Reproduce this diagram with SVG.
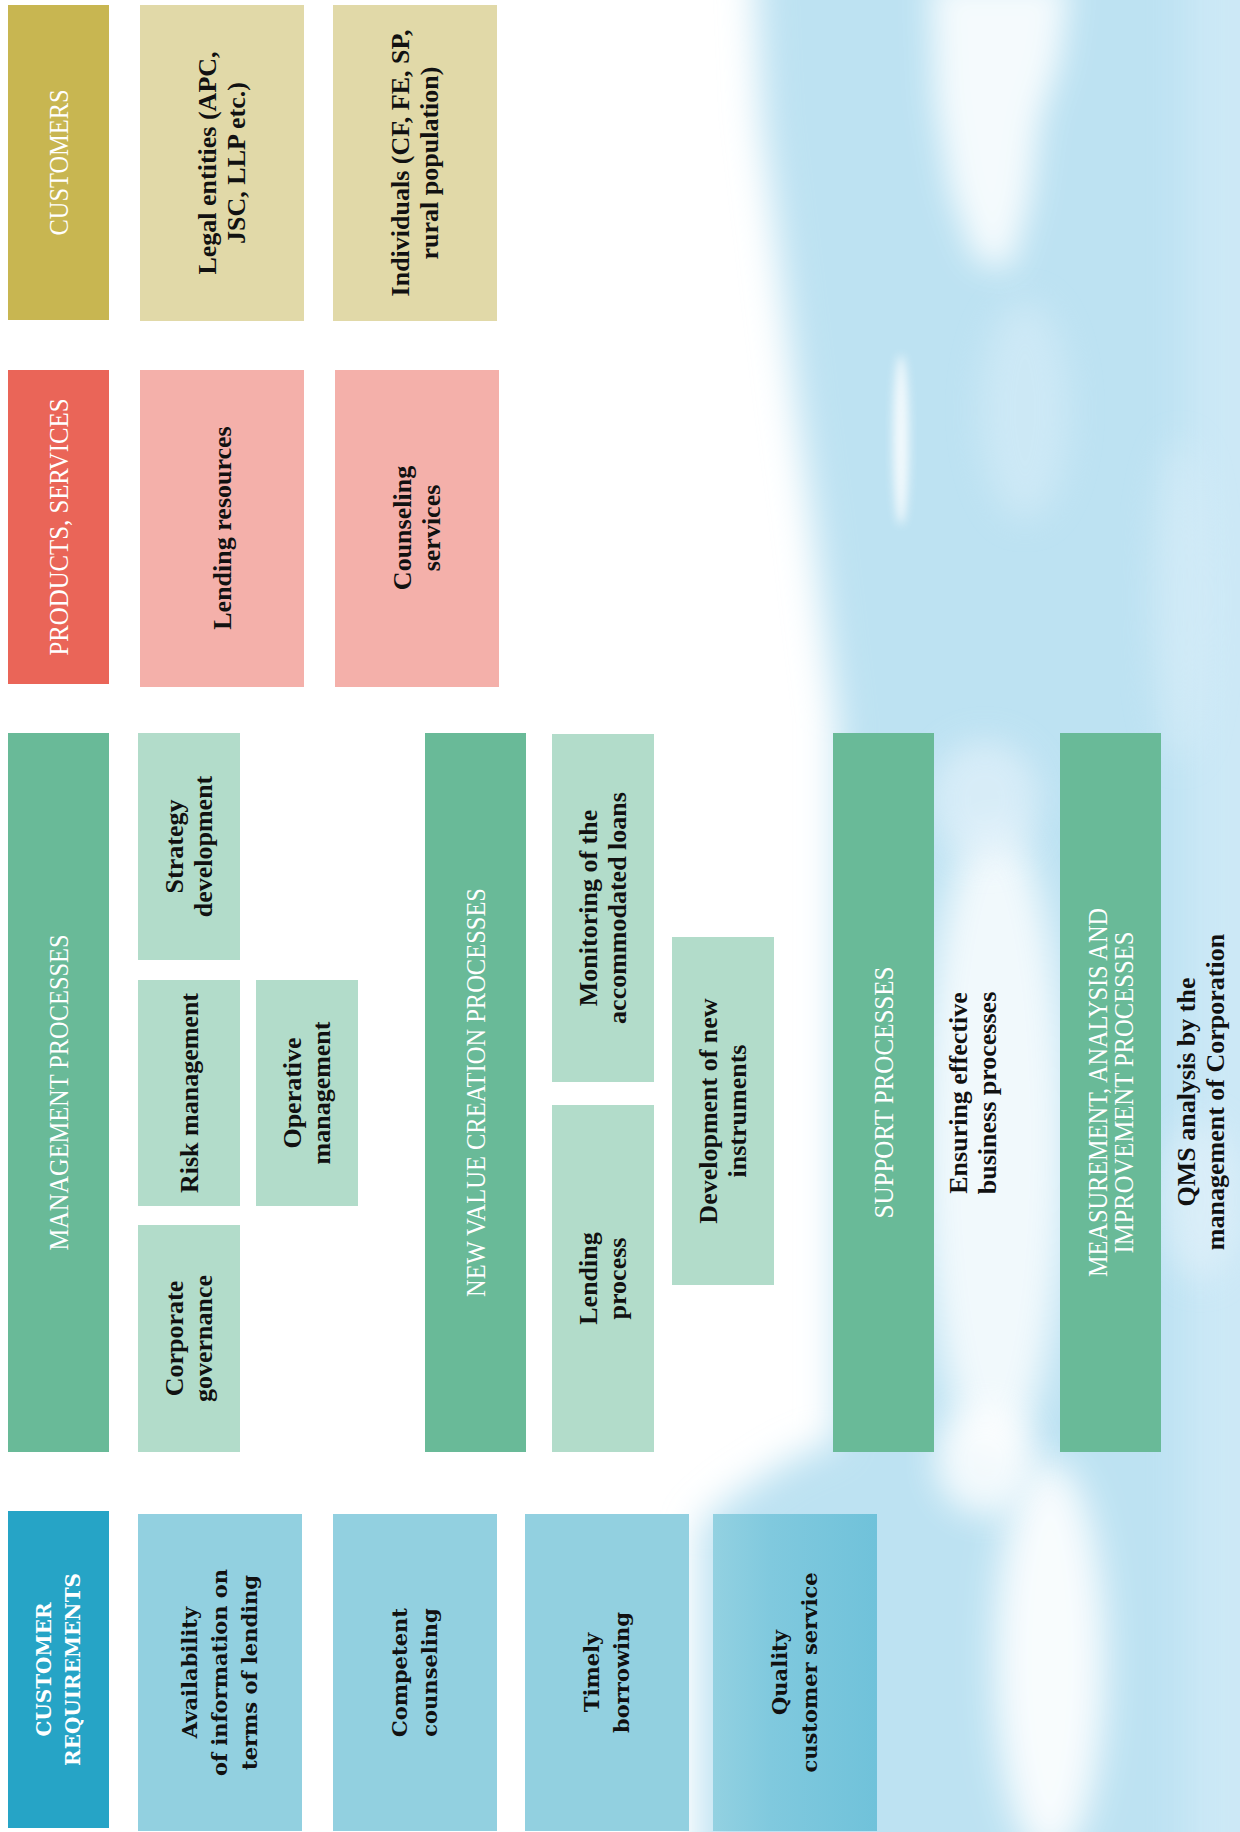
<svg xmlns="http://www.w3.org/2000/svg" width="1240" height="1832" viewBox="0 0 1240 1832">
<style>
  .hdr { font-family: "Liberation Serif", "Times New Roman", serif; font-size: 27px; fill: #ffffff; text-anchor: middle; }
  .crh { font-family: "DejaVu Serif", serif; font-weight: bold; font-size: 20px; fill: #ffffff; text-anchor: middle; }
  .t { font-family: "Liberation Serif", "Times New Roman", serif; font-weight: bold; font-size: 26px; fill: #111111; text-anchor: middle; }
  .cr { font-family: "DejaVu Serif", serif; font-weight: bold; font-size: 21px; fill: #111111; text-anchor: middle; }
  .cust-h { fill: #C8B651; }
  .cust { fill: #E1D9A8; }
  .prod-h { fill: #EA6558; }
  .prod { fill: #F4B0AA; }
  .proc-h { fill: #69BA98; }
  .proc { fill: #B2DCCA; }
  .req-h { fill: #26A4C6; }
  .req { fill: #92D0E0; }
</style>
<defs>
  <filter id="blurBig" x="-50%" y="-50%" width="200%" height="200%">
    <feGaussianBlur stdDeviation="18"/>
  </filter>
  <filter id="blurMid" x="-50%" y="-50%" width="200%" height="200%">
    <feGaussianBlur stdDeviation="16"/>
  </filter>
  <filter id="blurSmall" x="-50%" y="-50%" width="200%" height="200%">
    <feGaussianBlur stdDeviation="5"/>
  </filter>
  <linearGradient id="qualGrad" x1="0" y1="0" x2="1" y2="0">
    <stop offset="0" stop-color="#93D1E1"/>
    <stop offset="0.35" stop-color="#80C9DE"/>
    <stop offset="1" stop-color="#70C2DA"/>
  </linearGradient>
</defs>

<rect x="0" y="0" width="1240" height="1832" fill="#ffffff"/>

<!-- sky background -->
<g id="sky">
  <path filter="url(#blurBig)" fill="#BDE2F2" d="M 752 -100 L 1400 -100 L 1400 1950 L 700 1950 L 700 1525 L 735 1495 L 790 1460 L 836 1440 L 836 720 L 826 640 L 812 520 L 796 400 L 778 250 L 762 120 Z"/>
  <rect x="1185" y="-50" width="120" height="1950" fill="#D6EDF9" opacity="0.6" filter="url(#blurBig)"/>
  <path d="M 930 -20 L 1070 -20 L 1060 60 L 1040 120 L 1030 200 L 1010 270 L 975 260 L 950 190 L 935 100 Z" fill="#ffffff" opacity="0.85" filter="url(#blurMid)"/>
  <ellipse cx="1025" cy="410" rx="45" ry="110" fill="#DCEFF9" opacity="0.5" filter="url(#blurMid)"/>
  <ellipse cx="901" cy="440" rx="8" ry="85" fill="#ffffff" opacity="0.8" filter="url(#blurSmall)"/>
  <ellipse cx="1180" cy="600" rx="30" ry="160" fill="#DCEFF9" opacity="0.5" filter="url(#blurMid)"/>
  <ellipse cx="995" cy="1140" rx="70" ry="320" fill="#ffffff" opacity="0.8" filter="url(#blurBig)"/>
  <ellipse cx="985" cy="800" rx="55" ry="60" fill="#E2F1FA" opacity="0.7" filter="url(#blurMid)"/>
  <ellipse cx="1050" cy="1660" rx="55" ry="200" fill="#ffffff" opacity="0.9" filter="url(#blurBig)"/>
  <ellipse cx="985" cy="1460" rx="50" ry="55" fill="#ffffff" opacity="0.8" filter="url(#blurMid)"/>
  <ellipse cx="1200" cy="1200" rx="40" ry="80" fill="#E4F2FA" opacity="0.6" filter="url(#blurMid)"/>
</g>

<g id="connectors"/>

<!-- Row 1: customers -->
<g id="customers-header">
  <rect class="cust-h" x="8" y="5" width="101" height="315"/>
  <text class="hdr" transform="translate(58.5,162.5) rotate(-90)"><tspan x="0" y="9" textLength="146" lengthAdjust="spacingAndGlyphs">CUSTOMERS</tspan></text>
</g>
<g id="legal-entities">
  <rect class="cust" x="140" y="5" width="164" height="316"/>
  <text class="t" transform="translate(222,163) rotate(-90)"><tspan x="0" y="-5.9">Legal entities (APC,</tspan><tspan x="0" y="23.1">JSC, LLP etc.)</tspan></text>
</g>
<g id="individuals">
  <rect class="cust" x="333" y="5" width="164" height="316"/>
  <text class="t" transform="translate(415,163) rotate(-90)"><tspan x="0" y="-5.9">Individuals (CF, FE, SP,</tspan><tspan x="0" y="23.1">rural population)</tspan></text>
</g>

<!-- Row 2: products -->
<g id="products-header">
  <rect class="prod-h" x="8" y="370" width="101" height="314"/>
  <text class="hdr" transform="translate(58.5,527) rotate(-90)"><tspan x="0" y="9" textLength="257" lengthAdjust="spacingAndGlyphs">PRODUCTS, SERVICES</tspan></text>
</g>
<g id="lending-resources">
  <rect class="prod" x="140" y="370" width="164" height="317"/>
  <text class="t" transform="translate(222,528) rotate(-90)"><tspan x="0" y="8.6">Lending resources</tspan></text>
</g>
<g id="counseling-services">
  <rect class="prod" x="335" y="370" width="164" height="317"/>
  <text class="t" transform="translate(417,528) rotate(-90)"><tspan x="0" y="-5.9">Counseling</tspan><tspan x="0" y="23.1">services</tspan></text>
</g>

<!-- Row 3: processes -->
<g id="management-processes">
  <rect class="proc-h" x="8" y="733" width="101" height="719"/>
  <text class="hdr" transform="translate(58.5,1092.5) rotate(-90)"><tspan x="0" y="9" textLength="316" lengthAdjust="spacingAndGlyphs">MANAGEMENT PROCESSES</tspan></text>
</g>
<g id="strategy-development">
  <rect class="proc" x="138" y="733" width="102" height="227"/>
  <text class="t" transform="translate(189,846.5) rotate(-90)"><tspan x="0" y="-5.9">Strategy</tspan><tspan x="0" y="23.1">development</tspan></text>
</g>
<g id="risk-management">
  <rect class="proc" x="138" y="980" width="102" height="226"/>
  <text class="t" transform="translate(189,1093) rotate(-90)"><tspan x="0" y="8.6">Risk management</tspan></text>
</g>
<g id="corporate-governance">
  <rect class="proc" x="138" y="1225" width="102" height="227"/>
  <text class="t" transform="translate(189,1338.5) rotate(-90)"><tspan x="0" y="-5.9">Corporate</tspan><tspan x="0" y="23.1">governance</tspan></text>
</g>
<g id="operative-management">
  <rect class="proc" x="256" y="980" width="102" height="226"/>
  <text class="t" transform="translate(307,1093) rotate(-90)"><tspan x="0" y="-5.9">Operative</tspan><tspan x="0" y="23.1">management</tspan></text>
</g>
<g id="new-value-creation">
  <rect class="proc-h" x="425" y="733" width="101" height="719"/>
  <text class="hdr" transform="translate(475.5,1092.5) rotate(-90)"><tspan x="0" y="9" textLength="409" lengthAdjust="spacingAndGlyphs">NEW VALUE CREATION PROCESSES</tspan></text>
</g>
<g id="monitoring">
  <rect class="proc" x="552" y="734" width="102" height="348"/>
  <text class="t" transform="translate(603,908) rotate(-90)"><tspan x="0" y="-5.9">Monitoring of the</tspan><tspan x="0" y="23.1">accommodated loans</tspan></text>
</g>
<g id="lending-process">
  <rect class="proc" x="552" y="1105" width="102" height="347"/>
  <text class="t" transform="translate(603,1278.5) rotate(-90)"><tspan x="0" y="-5.9">Lending</tspan><tspan x="0" y="23.1">process</tspan></text>
</g>
<g id="development-instruments">
  <rect class="proc" x="672" y="937" width="102" height="348"/>
  <text class="t" transform="translate(723,1111) rotate(-90)"><tspan x="0" y="-5.9">Development of new</tspan><tspan x="0" y="23.1">instruments</tspan></text>
</g>
<g id="support-processes">
  <rect class="proc-h" x="833" y="733" width="101" height="719"/>
  <text class="hdr" transform="translate(883.5,1092.5) rotate(-90)"><tspan x="0" y="9" textLength="252" lengthAdjust="spacingAndGlyphs">SUPPORT PROCESSES</tspan></text>
</g>
<g id="ensuring">
  <text class="t" transform="translate(973,1093) rotate(-90)"><tspan x="0" y="-5.9">Ensuring effective</tspan><tspan x="0" y="23.1">business processes</tspan></text>
</g>
<g id="measurement-processes">
  <rect class="proc-h" x="1060" y="733" width="101" height="719"/>
  <text class="hdr" transform="translate(1110.5,1092.5) rotate(-90)"><tspan x="0" y="-4" textLength="369" lengthAdjust="spacingAndGlyphs">MEASUREMENT, ANALYSIS AND</tspan><tspan x="0" y="22" textLength="322" lengthAdjust="spacingAndGlyphs">IMPROVEMENT PROCESSES</tspan></text>
</g>
<g id="qms-analysis">
  <text class="t" transform="translate(1201,1092) rotate(-90)"><tspan x="0" y="-5.9">QMS analysis by the</tspan><tspan x="0" y="23.1">management of Corporation</tspan></text>
</g>

<!-- Row 4: customer requirements -->
<g id="customer-requirements-header">
  <rect class="req-h" x="8" y="1511" width="101" height="317"/>
  <text class="crh" transform="translate(58.5,1669.5) rotate(-90)"><tspan x="0" y="-7.9">CUSTOMER</tspan><tspan x="0" y="21.1">REQUIREMENTS</tspan></text>
</g>
<g id="availability">
  <rect class="req" x="138" y="1514" width="164" height="317"/>
  <text class="cr" transform="translate(220,1672.5) rotate(-90)"><tspan x="0" y="-23.1">Availability</tspan><tspan x="0" y="6.9">of information on</tspan><tspan x="0" y="36.9">terms of lending</tspan></text>
</g>
<g id="competent-counseling">
  <rect class="req" x="333" y="1514" width="164" height="317"/>
  <text class="cr" transform="translate(415,1672.5) rotate(-90)"><tspan x="0" y="-8.1">Competent</tspan><tspan x="0" y="21.9">counseling</tspan></text>
</g>
<g id="timely-borrowing">
  <rect class="req" x="525" y="1514" width="164" height="317"/>
  <text class="cr" transform="translate(607,1672.5) rotate(-90)"><tspan x="0" y="-8.1">Timely</tspan><tspan x="0" y="21.9">borrowing</tspan></text>
</g>
<g id="quality-service">
  <rect x="713" y="1514" width="164" height="317" fill="url(#qualGrad)"/>
  <text class="cr" transform="translate(795,1672.5) rotate(-90)"><tspan x="0" y="-8.1">Quality</tspan><tspan x="0" y="21.9">customer service</tspan></text>
</g>
</svg>
